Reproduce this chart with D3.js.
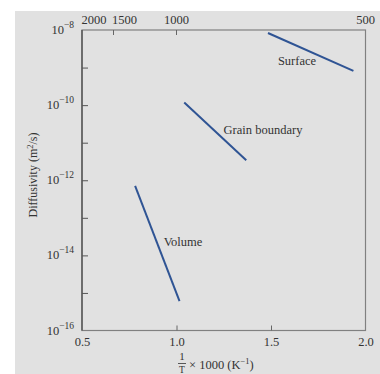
<!DOCTYPE html>
<html><head><meta charset="utf-8">
<script src="https://cdn.jsdelivr.net/npm/d3@7"></script>
<style>html,body{margin:0;padding:0;background:#fff;}svg{display:block;}</style>
</head><body>
<svg id="c" width="380" height="374"></svg>
<script>
// Data (x = 1000/T in K^-1, y = log10 diffusivity in m^2/s)
const seriesNames = ["Surface", "Grain boundary", "Volume"];
const surfaceX = [1.484, 1.936];
const surfaceLogD = [-8.08, -9.09];
const grainX = [1.041, 1.369];
const grainLogD = [-9.93, -11.47];
const volumeX = [0.781, 1.016];
const volumeLogD = [-12.15, -15.22];
const xTicks = [0.5, 1.0, 1.5, 2.0];
const yTickExps = [-8, -9, -10, -11, -12, -13, -14, -15, -16];
const yLabelExps = [-8, -10, -12, -14, -16];
const topTempsK = [2000, 1500, 1000, 500];

const svg = d3.select("#c");
const W = 380, H = 374;
const m = {l: 82, t: 30, r: 365.5, b: 330.5};
const font = "'Liberation Serif','DejaVu Serif',serif";
const txt = "#333";

svg.append("rect").attr("x", 15).attr("y", 11).attr("width", W - 15).attr("height", H - 11).attr("fill", "#e1e1e1");

const x = d3.scaleLinear().domain([0.5, 2.0]).range([m.l, m.r]);
const y = d3.scaleLinear().domain([-8, -16]).range([m.t, m.b]);

// frame
svg.append("rect").attr("x", m.l).attr("y", m.t).attr("width", m.r - m.l).attr("height", m.b - m.t)
  .attr("fill", "none").attr("stroke", "#808080").attr("stroke-width", 1.2);
svg.append("line").attr("x1", m.l).attr("x2", m.l).attr("y1", m.t).attr("y2", m.b)
  .attr("stroke", "#555").attr("stroke-width", 1.4);

// bottom axis
const bottom = svg.append("g").attr("transform", `translate(0,${m.b})`)
  .call(d3.axisBottom(x).tickValues(xTicks).tickFormat(d3.format(".1f")).tickSizeInner(-5).tickSizeOuter(0).tickPadding(7));
bottom.select(".domain").remove();
bottom.selectAll("line").attr("stroke", "#666");
bottom.selectAll("text").attr("font-family", font).attr("font-size", 12.5).attr("fill", txt);
bottom.selectAll(".tick").filter(d => d === 0.5 || d === 2.0).select("line").remove();

// left axis
const left = svg.append("g").attr("transform", `translate(${m.l},0)`)
  .call(d3.axisLeft(y).tickValues(yTickExps).tickFormat("").tickSizeInner(-6).tickSizeOuter(0));
left.select(".domain").remove();
left.selectAll("line").attr("stroke", "#555");
left.selectAll(".tick").filter(d => d === -8 || d === -16).select("line").remove();

yLabelExps.forEach(e => {
  const t = svg.append("text").attr("x", m.l - 8).attr("y", y(e) + 4)
    .attr("text-anchor", "end").attr("font-family", font).attr("font-size", 12.5).attr("fill", txt);
  t.append("tspan").text("10");
  t.append("tspan").attr("dy", -6).attr("font-size", 9.5).text("\u2212" + Math.abs(e));
});

// top axis (temperature, K)
const topG = svg.append("g");
topTempsK.forEach((T, i) => {
  const xv = x(1000 / T);
  if (T === 1500 || T === 1000) {
    topG.append("line").attr("x1", xv).attr("x2", xv).attr("y1", m.t).attr("y2", m.t + 5).attr("stroke", "#666");
  }
  const shift = T === 2000 ? 12 : (T === 1500 ? 11 : 0);
  topG.append("text").attr("x", xv + shift).attr("y", m.t - 6).attr("text-anchor", "middle")
    .attr("font-family", font).attr("font-size", 12.5).attr("fill", txt).text(T);
});

// lines
const series = [
  {name: seriesNames[0], xs: surfaceX, ys: surfaceLogD, lx: 297, ly: 65},
  {name: seriesNames[1], xs: grainX, ys: grainLogD, lx: 263, ly: 134},
  {name: seriesNames[2], xs: volumeX, ys: volumeLogD, lx: 183, ly: 246}
];
const line = d3.line().x(d => x(d[0])).y(d => y(d[1]));
series.forEach(s => {
  svg.append("path").datum(s.xs.map((v, i) => [v, s.ys[i]])).attr("d", line)
    .attr("fill", "none").attr("stroke", "#2f5494").attr("stroke-width", 2);
  svg.append("text").attr("x", s.lx).attr("y", s.ly).attr("text-anchor", "middle")
    .attr("font-family", font).attr("font-size", 12.5).attr("fill", txt).text(s.name);
});

// y title
const yt = svg.append("text").attr("transform", `translate(37,175) rotate(-90)`)
  .attr("text-anchor", "middle").attr("font-family", font).attr("font-size", 12).attr("fill", txt);
yt.append("tspan").text("Diffusivity (m");
yt.append("tspan").attr("dy", -4).attr("font-size", 8.5).text("2");
yt.append("tspan").attr("dy", 4).text("/s)");

// x title with fraction
const fx = 182;
svg.append("text").attr("x", fx).attr("y", 360).attr("text-anchor", "middle")
  .attr("font-family", font).attr("font-size", 11).attr("fill", txt).text("1");
svg.append("line").attr("x1", fx - 4).attr("x2", fx + 4).attr("y1", 363.5).attr("y2", 363.5).attr("stroke", txt).attr("stroke-width", 0.8);
svg.append("text").attr("x", fx).attr("y", 373).attr("text-anchor", "middle")
  .attr("font-family", font).attr("font-size", 9.5).attr("fill", txt).text("T");
const xt = svg.append("text").attr("x", fx + 7).attr("y", 369)
  .attr("font-family", font).attr("font-size", 12.5).attr("fill", txt);
xt.append("tspan").text("\u00d7 1000 (K");
xt.append("tspan").attr("dy", -5).attr("font-size", 8.5).text("\u22121");
xt.append("tspan").attr("dy", 5).text(")");
</script>
</body></html>
